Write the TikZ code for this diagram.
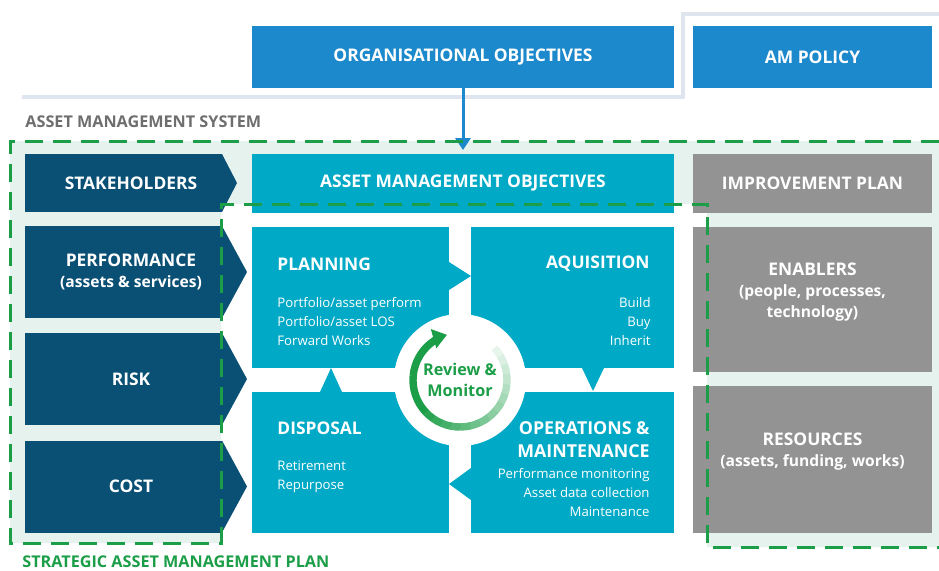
\documentclass[tikz,border=0pt]{standalone}
\usepackage{fontspec}
\setmainfont{Open Sans}
\usetikzlibrary{arrows.meta}
\definecolor{orgblue}{RGB}{27,137,203}
\definecolor{darkblue}{RGB}{10,79,116}
\definecolor{amteal}{RGB}{0,169,197}
\definecolor{boxgrey}{RGB}{147,147,147}
\definecolor{amgreen}{RGB}{28,158,72}
\definecolor{mint}{RGB}{229,242,237}
\definecolor{framegrey}{RGB}{222,229,238}
\definecolor{sysgrey}{RGB}{110,110,110}
\newcommand*\headsize {\fontsize{8.7}{10.5}\selectfont\bfseries}
\newcommand*\parensize{\fontsize{7.8}{10.5}\selectfont\bfseries}
\newcommand*\subsize  {\fontsize{6.6}{9.5}\selectfont}
\newcommand*\labelsize{\fontsize{8.1}{10}\selectfont\bfseries}
\tikzset{
    box/.style      = {inner sep=0pt, outer sep=0pt, text=white,
                       align=center, font=\headsize},
    topbox/.style   = {box, fill=orgblue, minimum height=31pt},
    leftbox/.style  = {box, fill=darkblue, minimum width=98.5pt,
                       minimum height=46pt},
    tealbox/.style  = {box, fill=amteal},
    blockbox/.style = {box, fill=amteal, minimum height=70.5pt},
    greybox/.style  = {box, fill=boxgrey, minimum width=119.5pt},
    boxtext/.style  = {inner sep=0pt, text=white, align=center, font=\headsize},
    headtext/.style = {inner sep=0pt, text=white, font=\headsize},
    subtext/.style  = {inner sep=0pt, text=white, font=\subsize},
    planlabel/.style= {inner sep=0pt, anchor=west, font=\labelsize},
    dashline/.style = {amgreen, line width=1.5pt, dash pattern=on 9pt off 5pt},
}
\begin{document}
\begin{tikzpicture}[x=0.5pt,y=-0.5pt]
    \useasboundingbox (0,0) rectangle (939,570);

    % shaded area of the asset management system
    \fill[mint] (10,141) -- (939,141) -- (939,547) -- (707,547) -- (707,204)
        -- (221,204) -- (221,543) -- (10,543) -- cycle;
    % frame line round the objectives and policy
    \draw[framegrey, line width=2pt] (22,97) -- (683,97) -- (683,14) -- (939,14);

    % top row
    \node[topbox, minimum width=211pt]   (org)    at (463,57)   {ORGANISATIONAL OBJECTIVES};
    \node[topbox, minimum width=119.5pt] (policy) at (812.5,57) {AM POLICY};

    % left column, boxes then their points
    \node[leftbox, minimum height=29pt] (stake) at (123.5,183)   {};
    \node[leftbox]                      (perf)  at (123.5,272)   {};
    \node[leftbox]                      (risk)  at (123.5,379)   {};
    \node[leftbox]                      (cost)  at (123.5,486.5) {};
    \foreach \n/\d in {stake/7.5, perf/12.5, risk/12.5, cost/12.5} {
        \fill[darkblue] (\n.north east) -- ([xshift=\d pt]\n.east) -- (\n.south east) -- cycle;
    }
    \foreach \n/\t in {stake/STAKEHOLDERS, perf/{PERFORMANCE\\\parensize(assets \& services)},
                       risk/RISK, cost/COST} {
        \node[boxtext] (\n-t) at ([xshift=3.75pt]\n.center) {\t};
    }

    % middle: objectives and the four blocks
    \node[tealbox, minimum width=211pt, minimum height=29.5pt] (amobj) at (463,183.5)
        {ASSET MANAGEMENT OBJECTIVES};
    \node[blockbox, minimum width=98.5pt]  (plan) at (350.5,297.5) {};
    \node[blockbox, minimum width=101.5pt] (aqui) at (572.5,297.5) {};
    \node[blockbox, minimum width=98.5pt]  (disp) at (350.5,462.5) {};
    \node[blockbox, minimum width=101.5pt] (ops)  at (572.5,462.5) {};

    % pointers from block to block
    \fill[amteal] ([shift={(0,35)}]plan.north east) -- ([shift={(22,49)}]plan.north east)
        -- ([shift={(0,63)}]plan.north east) -- cycle;
    \fill[amteal] ([shift={(111,0)}]aqui.south west) -- ([shift={(122,23)}]aqui.south west)
        -- ([shift={(133,0)}]aqui.south west) -- cycle;
    \fill[amteal] ([shift={(0,76)}]ops.north west) -- ([shift={(-22,92)}]ops.north west)
        -- ([shift={(0,108)}]ops.north west) -- cycle;
    \fill[amteal] ([shift={(68,0)}]disp.north west) -- ([shift={(79,-24)}]disp.north west)
        -- ([shift={(90,0)}]disp.north west) -- cycle;

    % block texts
    \node[headtext, anchor=west] (plan-h) at ([shift={(25,37)}]plan.north west) {PLANNING};
    \node[subtext, anchor=west, align=left] (plan-s) at ([shift={(25,95)}]plan.north west)
        {Portfolio/asset perform\\Portfolio/asset LOS\\Forward Works};
    \node[headtext, anchor=east] (aqui-h) at ([shift={(-24,37)}]aqui.north east) {AQUISITION};
    \node[subtext, anchor=east, align=right] (aqui-s) at ([shift={(-23,95)}]aqui.north east)
        {Build\\Buy\\Inherit};
    \node[headtext, anchor=west] (disp-h) at ([shift={(25,36)}]disp.north west) {DISPOSAL};
    \node[subtext, anchor=west, align=left] (disp-s) at ([shift={(25,85)}]disp.north west)
        {Retirement\\Repurpose};
    \node[headtext, anchor=east, align=right, font=\fontsize{8.9}{11.5}\selectfont\bfseries]
        (ops-h) at ([shift={(-24,47.5)}]ops.north east) {OPERATIONS \&\\MAINTENANCE};
    \node[subtext, anchor=east, align=right] (ops-s) at ([shift={(-24,101)}]ops.north east)
        {Performance monitoring\\Asset data collection\\Maintenance};

    % review and monitor in the middle
    \coordinate (rm) at (460,380);
    \fill[white] (rm) circle[radius=66];
    \foreach \i in {0,...,22} {
        \pgfmathtruncatemacro\p{min(100,10+6*\i)}
        \draw[amgreen!\p!white, line width=3.7pt]
            ([shift={(-43+12*\i:47)}]rm) arc[start angle=-43+12*\i, end angle=-43+12*\i+12.5, radius=47];
    }
    \draw[amgreen, line width=3.7pt, -{Triangle[width=9.5pt,length=7pt]}]
        ([shift={(233:47)}]rm) arc[start angle=233, end angle=254, radius=47];
    \node[boxtext, text=amgreen, font=\fontsize{8.1}{10.5}\selectfont\bfseries] (review) at (rm)
        {Review \&\\Monitor};

    % right column
    \node[greybox, minimum height=29.5pt] (impr) at (812.5,183.5) {IMPROVEMENT PLAN};
    \node[greybox, minimum height=72.5pt] (enab) at (812.5,299.5) {};
    \node[greybox, minimum height=73.5pt] (reso) at (812.5,459.5) {};
    \node[boxtext] (enab-t) at ([yshift=3.5pt]enab.center)
        {ENABLERS\\\parensize(people, processes,\\\parensize technology)};
    \node[boxtext] (reso-t) at ([yshift=3.75pt]reso.center)
        {RESOURCES\\\parensize(assets, funding, works)};

    % objectives feed the asset management objectives
    \draw[orgblue, line width=1.5pt, -{Triangle[width=7.5pt,length=6pt]}, shorten >=2pt]
        (org.south) -- (amobj.north);

    % system and plan outline
    \draw[dashline] (939,141) -- (10,141) -- (10,543) -- (221,543) -- (221,204)
        -- (707,204) -- (707,547) -- (939,547);
    \node[planlabel, text=sysgrey] (ams)  at (25,122) {ASSET MANAGEMENT SYSTEM};
    \node[planlabel, text=amgreen] (samp) at (22,562) {STRATEGIC ASSET MANAGEMENT PLAN};
\end{tikzpicture}
\end{document}
